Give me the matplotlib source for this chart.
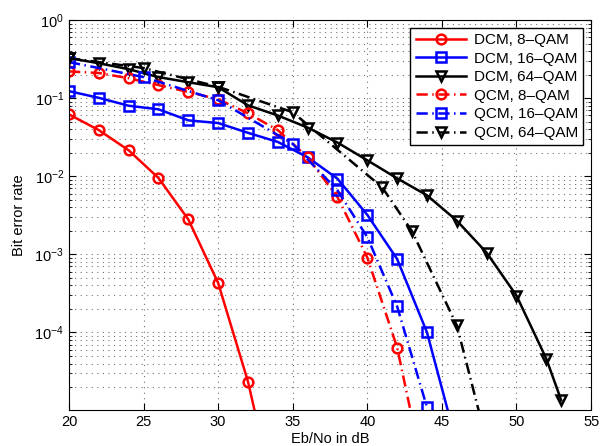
import numpy as np
import matplotlib
matplotlib.use('Agg')
import matplotlib.pyplot as plt

plt.rcParams['font.family'] = ['Liberation Sans', 'DejaVu Sans']

# Eb/No grid (dB) and measured bit error rates
snr_dcm8 = [20, 22, 24, 26, 28, 30, 32, 34]
ber_dcm8 = [0.062, 0.039, 0.0215, 0.0095, 0.0028, 4.3e-4, 2.35e-5, 5e-7]

snr_dcm16 = [20, 22, 24, 26, 28, 30, 32, 34, 36, 38, 40, 42, 44, 46]
ber_dcm16 = [0.123, 0.101, 0.080, 0.072, 0.052, 0.048, 0.036, 0.0275,
             0.0175, 0.0093, 0.0032, 8.7e-4, 1.0e-4, 3.7e-6]

snr_dcm64 = [20, 22, 24, 26, 28, 30, 32, 34, 36, 38, 40, 42, 44, 46, 48, 50, 52, 53]
ber_dcm64 = [0.326, 0.28, 0.235, 0.186, 0.16, 0.138, 0.081, 0.060, 0.042,
             0.027, 0.016, 0.0094, 0.0057, 0.0027, 0.00105, 2.96e-4, 4.6e-5, 1.35e-5]

snr_qcm8 = [20, 22, 24, 26, 28, 30, 32, 34, 36, 38, 40, 42, 44]
ber_qcm8 = [0.22, 0.21, 0.18, 0.147, 0.12, 0.097, 0.064, 0.039, 0.0175,
            0.0054, 9.1e-4, 6.4e-5, 1e-6]

snr_qcm16 = [20, 25, 30, 35, 38, 40, 42, 44]
ber_qcm16 = [0.29, 0.186, 0.094, 0.026, 0.0066, 0.00166, 2.15e-4, 1.1e-5]

snr_qcm64 = [20, 25, 30, 35, 41, 43, 46, 48]
ber_qcm64 = [0.326, 0.243, 0.14, 0.066, 0.0072, 0.00197, 1.23e-4, 4e-6]

labels = ['DCM, 8\u2013QAM', 'DCM, 16\u2013QAM', 'DCM, 64\u2013QAM',
          'QCM, 8\u2013QAM', 'QCM, 16\u2013QAM', 'QCM, 64\u2013QAM']

fig = plt.figure(figsize=(6.05, 4.46), dpi=100)
ax = fig.add_axes([0.114, 0.081, 0.863, 0.874])

dashdot = (0, (4.5, 1.8, 0.6, 1.8))
curves = [
    (snr_dcm8, ber_dcm8, 'r', 'o', '-'),
    (snr_dcm16, ber_dcm16, 'b', 's', '-'),
    (snr_dcm64, ber_dcm64, 'k', 'v', '-'),
    (snr_qcm8, ber_qcm8, 'r', 'o', dashdot),
    (snr_qcm16, ber_qcm16, 'b', 's', dashdot),
    (snr_qcm64, ber_qcm64, 'k', 'v', dashdot),
]
for (x, y, c, m, ls), lab in zip(curves, labels):
    ax.semilogy(x, y, color=c, marker=m, linestyle=ls, linewidth=1.8,
                markersize=7, markerfacecolor='none', markeredgewidth=1.8,
                label=lab)

ax.set_xlim(20, 55)
ax.set_ylim(1.02e-5, 1)
ax.set_xticks([20, 25, 30, 35, 40, 45, 50, 55])
ax.set_yticks([1e-4, 1e-3, 1e-2, 1e-1, 1e0])
ax.tick_params(which='both', direction='in', top=True, right=True,
               labelsize=10.5)
ax.tick_params(which='major', length=5)
ax.tick_params(which='minor', length=2.5)
grid_style = dict(linestyle=(0, (1, 4)), linewidth=0.8, color='k', alpha=0.55)
ax.grid(True, which='major', **grid_style)
ax.grid(True, which='minor', axis='y', **grid_style)

ax.set_xlabel('Eb/No in dB', fontsize=10.5, labelpad=2)
ax.set_ylabel('Bit error rate', fontsize=10.5, labelpad=6)

leg = ax.legend(loc='upper right', fontsize=11, handlelength=3.3,
                labelspacing=0.3, borderaxespad=0.5, fancybox=False,
                framealpha=1, edgecolor='k', borderpad=0.35, handletextpad=0.5)
leg.get_frame().set_linewidth(1.0)

fig.savefig('out.png', dpi=100)
